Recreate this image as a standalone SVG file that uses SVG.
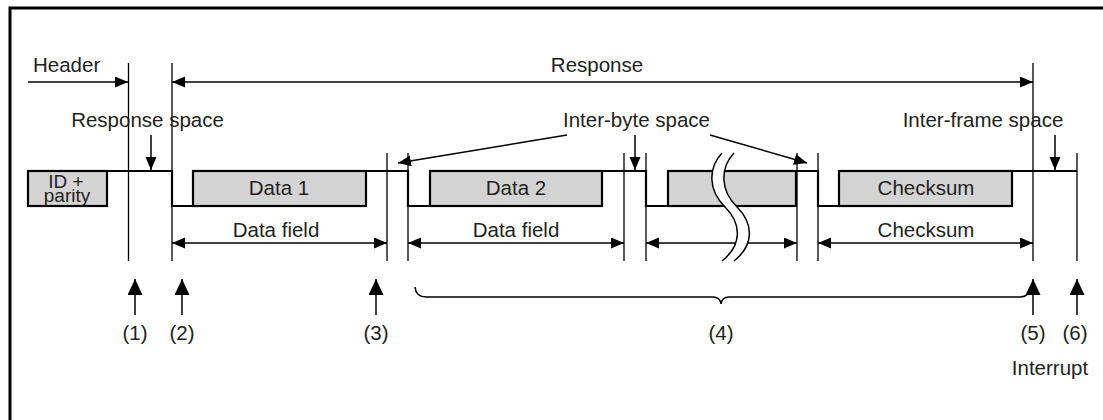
<svg xmlns="http://www.w3.org/2000/svg" width="1103" height="420" viewBox="0 0 1103 420">
<style>
text{font-family:"Liberation Sans",Arial,Helvetica,sans-serif;font-size:20.5px;fill:#231f20}
.c{text-anchor:middle}
.sm{font-size:19px}
.thin{stroke:#000;stroke-width:1.3;fill:none}
.arr{stroke:#000;stroke-width:1.5;fill:none}
.sig{stroke:#000;stroke-width:2.2;fill:none}
.box{fill:#d4d4d4;stroke:#000;stroke-width:2.2}
</style>
<defs>
<marker id="ah" markerUnits="userSpaceOnUse" markerWidth="14" markerHeight="12" refX="13" refY="5.5" orient="auto-start-reverse" viewBox="0 0 14 12">
<path d="M0,0 L13,5.5 L0,11 z" fill="#000"/>
</marker>
<marker id="up" markerUnits="userSpaceOnUse" markerWidth="17" markerHeight="16" refX="16" refY="7.5" orient="auto" viewBox="0 0 17 16">
<path d="M0,0 L16,7.5 L0,15 z" fill="#000"/>
</marker>
</defs>
<rect width="1103" height="420" fill="#fff"/>
<path d="M10,420 V8 H1103" stroke="#000" stroke-width="3" fill="none"/>

<g id="waveform">
<g id="id-parity"><rect class="box" x="28" y="171" width="79" height="35"/><text class="c sm" x="66" y="187.5">ID +</text><text class="c sm" x="67" y="202">parity</text></g>
<g id="data1"><rect class="box" x="193" y="171" width="173" height="35"/><text class="c" x="279" y="195">Data 1</text></g>
<g id="data2"><rect class="box" x="430" y="171" width="172" height="35"/><text class="c" x="516" y="195">Data 2</text></g>
<g id="dataN"><rect class="box" x="668" y="171" width="128" height="35"/></g>
<g id="checksum"><rect class="box" x="839" y="171" width="173" height="35"/><text class="c" x="926" y="195">Checksum</text></g>
<path class="sig" d="M107,171 H172 V206 H193 M366,171 H408 V206 H430 M602,171 H646 V206 H668 M796,171 H818 V206 H839 M1012,171 H1077"/>
</g>

<g id="connectors">
<path class="thin" d="M128.5,63 V261 M172,63 V261 M387,153 V261 M408,153 V261 M624,153 V261 M646,153 V261 M797,153 V261 M818,153 V261 M1033,63 V261 M1077,153 V261"/>
<line class="arr" x1="28" y1="82" x2="128" y2="82" marker-end="url(#ah)"/>
<line class="arr" x1="172" y1="82" x2="1033" y2="82" marker-start="url(#ah)" marker-end="url(#ah)"/>
<line class="arr" x1="151" y1="135" x2="151" y2="170" marker-end="url(#ah)"/>
<line class="arr" x1="567" y1="135" x2="398" y2="163" marker-end="url(#ah)"/>
<line class="arr" x1="635" y1="135" x2="635" y2="170" marker-end="url(#ah)"/>
<line class="arr" x1="710" y1="135" x2="807" y2="163" marker-end="url(#ah)"/>
<line class="arr" x1="1055" y1="135" x2="1055" y2="170" marker-end="url(#ah)"/>
<line class="arr" x1="172" y1="243" x2="387" y2="243" marker-start="url(#ah)" marker-end="url(#ah)"/>
<line class="arr" x1="408" y1="243" x2="624" y2="243" marker-start="url(#ah)" marker-end="url(#ah)"/>
<line class="arr" x1="646" y1="243" x2="797" y2="243" marker-start="url(#ah)" marker-end="url(#ah)"/>
<line class="arr" x1="818" y1="243" x2="1033" y2="243" marker-start="url(#ah)" marker-end="url(#ah)"/>
<path class="arr" d="M415,287 Q416,297 426,297 L713,297 Q720,297 721,304 Q722,297 729,297 L1020,297 Q1029,297 1031,287"/>
<line class="arr" stroke-width="2" x1="135" y1="315" x2="135" y2="279" marker-end="url(#up)"/>
<line class="arr" stroke-width="2" x1="182" y1="315" x2="182" y2="279" marker-end="url(#up)"/>
<line class="arr" stroke-width="2" x1="376" y1="315" x2="376" y2="279" marker-end="url(#up)"/>
<line class="arr" stroke-width="2" x1="1033" y1="315" x2="1033" y2="279" marker-end="url(#up)"/>
<line class="arr" stroke-width="2" x1="1077" y1="315" x2="1077" y2="279" marker-end="url(#up)"/>
</g>

<g id="break">
<path d="M722,153 C708,168 708,190 725,207 C742,224 742,245 722,261 L734,261 C754,245 754,224 737,207 C720,190 720,168 734,153 Z" fill="#fff"/>
<path class="arr" d="M722,153 C708,168 708,190 725,207 C742,224 742,245 722,261 M734,153 C720,168 720,190 737,207 C754,224 754,245 734,261"/>
</g>

<g id="labels">
<text x="33" y="72">Header</text>
<text class="c" x="597" y="72">Response</text>
<text class="c" x="147.5" y="127">Response space</text>
<text class="c" x="636.5" y="127">Inter-byte space</text>
<text class="c" x="983" y="127">Inter-frame space</text>
<text class="c" x="276" y="237">Data field</text>
<text class="c" x="516" y="237">Data field</text>
<text class="c" x="926" y="237">Checksum</text>
<text class="c" x="135" y="340">(1)</text>
<text class="c" x="182" y="340">(2)</text>
<text class="c" x="376" y="340">(3)</text>
<text class="c" x="721" y="340">(4)</text>
<text class="c" x="1033" y="340">(5)</text>
<text class="c" x="1075" y="340">(6)</text>
<text class="c" x="1050" y="375">Interrupt</text>
</g>
</svg>
